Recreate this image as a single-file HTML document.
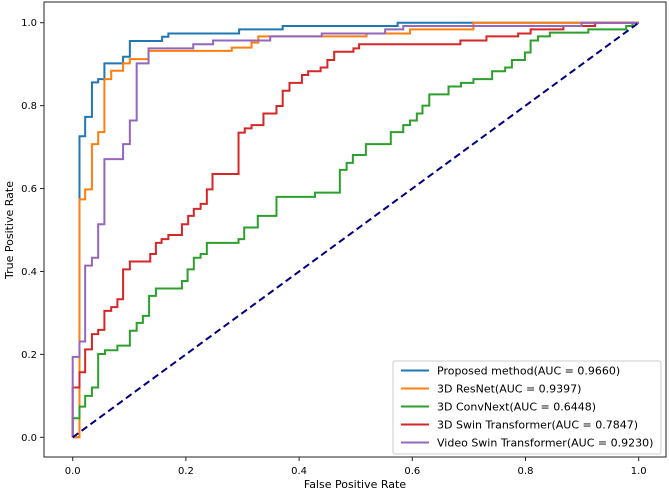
<!DOCTYPE html>
<html><head><meta charset="utf-8"><style>
body{margin:0;background:#fff;}
svg{display:block;font-family:"DejaVu Sans","Liberation Sans",sans-serif;}
</style></head><body>
<svg id="chart" width="669" height="493" viewBox="0 0 669 493" xmlns="http://www.w3.org/2000/svg">
<rect x="44" y="2" width="622" height="455" fill="#fff" stroke="#222" stroke-width="1"/>
<g id="ticks"></g>
<g id="series"></g>
<text x="355" y="488" font-size="11" text-anchor="middle">False Positive Rate</text>
<text x="13" y="230" font-size="11" text-anchor="middle" transform="rotate(-90 13 230)">True Positive Rate</text>
<g id="legend"></g>
</svg>
<script>
const xTicks=[0,0.2,0.4,0.6,0.8,1.0];
const yTicks=[0,0.2,0.4,0.6,0.8,1.0];
const names=["Proposed method(AUC = 0.9660)","3D ResNet(AUC = 0.9397)","3D ConvNext(AUC = 0.6448)","3D Swin Transformer(AUC = 0.7847)","Video Swin Transformer(AUC = 0.9230)"];
const colors=["#1f77b4","#ff7f0e","#2ca02c","#d62728","#9467bd"];
const blueX=[0.012,0.022,0.034,0.045,0.056,0.089,0.101,0.158,0.169,0.294,0.371,0.574];
const blueY=[0.726,0.773,0.856,0.864,0.902,0.918,0.956,0.966,0.974,0.984,0.992,1.0];
const orangeX=[0.012,0.022,0.034,0.045,0.056,0.068,0.089,0.101,0.134,0.281,0.316,0.328,0.519,0.596,0.708];
const orangeY=[0.574,0.598,0.707,0.736,0.864,0.884,0.902,0.912,0.932,0.940,0.952,0.967,0.974,0.984,1.0];
const greenX=[0,0.012,0.022,0.034,0.045,0.057,0.079,0.101,0.113,0.124,0.135,0.147,0.193,0.203,0.214,0.226,0.237,0.293,0.303,0.327,0.360,0.428,0.472,0.484,0.495,0.518,0.562,0.584,0.596,0.608,0.618,0.63,0.664,0.686,0.708,0.741,0.764,0.776,0.799,0.809,0.822,0.843,0.911,0.978,0.989];
const greenY=[0.046,0.074,0.1,0.12,0.201,0.21,0.221,0.257,0.276,0.293,0.341,0.359,0.377,0.405,0.433,0.442,0.469,0.478,0.506,0.534,0.580,0.59,0.645,0.662,0.681,0.707,0.736,0.753,0.764,0.781,0.8,0.827,0.846,0.855,0.864,0.883,0.892,0.91,0.928,0.957,0.967,0.976,0.984,0.992,1.0];
const redX=[0,0.012,0.022,0.034,0.045,0.056,0.068,0.079,0.089,0.101,0.137,0.147,0.157,0.169,0.193,0.204,0.214,0.226,0.237,0.247,0.293,0.304,0.316,0.337,0.360,0.371,0.383,0.405,0.416,0.438,0.45,0.462,0.496,0.506,0.685,0.731,0.787,0.809,0.867,0.923];
const redY=[0.12,0.157,0.212,0.249,0.259,0.305,0.314,0.333,0.405,0.424,0.442,0.469,0.478,0.488,0.514,0.534,0.551,0.563,0.598,0.635,0.735,0.745,0.753,0.781,0.799,0.836,0.855,0.874,0.883,0.892,0.91,0.93,0.938,0.948,0.957,0.967,0.974,0.984,0.992,1.0];
const purpleX=[0,0.012,0.022,0.034,0.045,0.056,0.089,0.101,0.113,0.134,0.213,0.248,0.349,0.44,0.552,0.584,0.899];
const purpleY=[0.194,0.231,0.414,0.433,0.514,0.671,0.707,0.764,0.902,0.938,0.948,0.957,0.967,0.974,0.984,0.992,1.0];

const NS="http://www.w3.org/2000/svg";
const X0=72.7,XS=566,Y0=437.3,YS=414.6;
const sx=v=>X0+v*XS, sy=v=>Y0-v*YS;
function mk(t,a,p){const e=document.createElementNS(NS,t);for(const k in a)e.setAttribute(k,a[k]);p.appendChild(e);return e;}
const tk=document.getElementById('ticks');
xTicks.forEach(v=>{
  const l=mk('line',{x1:sx(v),x2:sx(v),y1:457,y2:461,stroke:'#222'},tk);
  
  
  const t=mk('text',{x:sx(v),y:474,'font-size':10,'text-anchor':'middle'},tk);
  t.textContent=v.toFixed(1);
  
  
});
yTicks.forEach(v=>{
  const l=mk('line',{x1:40,x2:44,y1:sy(v),y2:sy(v),stroke:'#222'},tk);
  
  
  const t=mk('text',{x:37,y:sy(v)+3.5,'font-size':10,'text-anchor':'end'},tk);
  t.textContent=v.toFixed(1);
  
  
});
const sg=document.getElementById('series');
const all=[[blueX,blueY],[orangeX,orangeY],[greenX,greenY],[redX,redY],[purpleX,purpleY]];
const keys=['proposed-method','3d-resnet','3d-convnext','3d-swin-transformer','video-swin-transformer'];
all.forEach((s,i)=>{
  let d='M'+sx(0)+','+sy(0);let py=0;
  s[0].forEach((x,j)=>{d+=' L'+sx(x)+','+sy(py)+' L'+sx(x)+','+sy(s[1][j]);py=s[1][j];});
  d+=' L'+sx(1)+','+sy(py);
  const p=mk('path',{d:d,fill:'none',stroke:colors[i],'stroke-width':2},sg);
  
  
});
const dl=mk('line',{x1:sx(0),y1:sy(0),x2:sx(1),y2:sy(1),stroke:'#000080','stroke-width':2,'stroke-dasharray':'7,4'},sg);


const lg=document.getElementById('legend');
mk('rect',{x:393,y:361,width:268,height:93,rx:2,fill:'#fff',stroke:'#ccc'},lg);
names.forEach((n,i)=>{
  const y=370.5+i*18;
  const l=mk('line',{x1:401,x2:429,y1:y,y2:y,stroke:colors[i],'stroke-width':2},lg);
  
  
  const t=mk('text',{x:437,y:y+4,'font-size':11},lg);
  t.textContent=n;
  
  
});
</script>
</body></html>
